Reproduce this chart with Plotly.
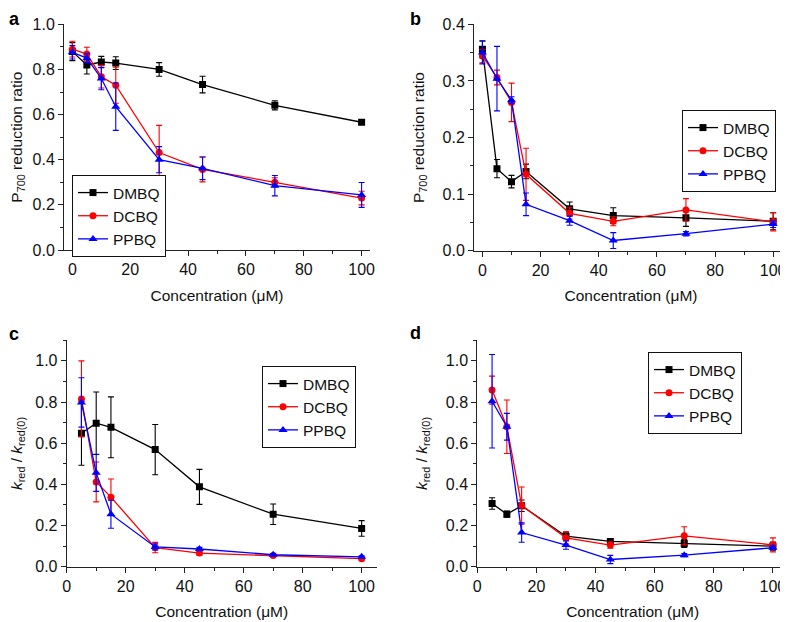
import plotly.graph_objects as go

conc_ab = [0, 5, 10, 15, 30, 45, 70, 100]
conc_cd = [5, 10, 15, 30, 45, 70, 100]
series_names = ["DMBQ", "DCBQ", "PPBQ"]

# Panel a: P700 reduction ratio
a_dmbq = [0.879, 0.820, 0.833, 0.828, 0.800, 0.733, 0.641, 0.566]
a_dmbq_err = [0.040, 0.040, 0.025, 0.028, 0.030, 0.037, 0.020, 0.010]
a_dcbq = [0.890, 0.868, 0.768, 0.730, 0.432, 0.357, 0.300, 0.230]
a_dcbq_err = [0.035, 0.030, 0.050, 0.080, 0.120, 0.055, 0.020, 0.030]
a_ppbq = [0.876, 0.850, 0.760, 0.635, 0.400, 0.362, 0.285, 0.244]
a_ppbq_err = [0.030, 0.020, 0.050, 0.105, 0.058, 0.050, 0.045, 0.055]

# Panel b: P700 reduction ratio
b_dmbq = [0.356, 0.145, 0.122, 0.140, 0.074, 0.062, 0.058, 0.052]
b_dmbq_err = [0.015, 0.016, 0.011, 0.013, 0.012, 0.014, 0.015, 0.015]
b_dcbq = [0.344, 0.306, 0.262, 0.135, 0.066, 0.052, 0.072, 0.051]
b_dcbq_err = [0.012, 0.013, 0.034, 0.046, 0.010, 0.008, 0.020, 0.016]
b_ppbq = [0.350, 0.304, 0.266, 0.082, 0.053, 0.018, 0.030, 0.047]
b_ppbq_err = [0.020, 0.057, 0.006, 0.020, 0.008, 0.014, 0.004, 0.006]

# Panel c: k_red / k_red(0)
c_dmbq = [0.648, 0.697, 0.677, 0.569, 0.388, 0.255, 0.186]
c_dmbq_err = [0.155, 0.152, 0.148, 0.122, 0.085, 0.050, 0.038]
c_dcbq = [0.815, 0.412, 0.338, 0.093, 0.066, 0.055, 0.039]
c_dcbq_err = [0.185, 0.097, 0.088, 0.025, 0.010, 0.005, 0.005]
c_ppbq = [0.798, 0.456, 0.255, 0.096, 0.086, 0.058, 0.048]
c_ppbq_err = [0.120, 0.090, 0.068, 0.015, 0.008, 0.006, 0.005]

# Panel d: k_red / k_red(0)
d_dmbq = [0.307, 0.255, 0.296, 0.148, 0.123, 0.113, 0.100]
d_dmbq_err = [0.028, 0.015, 0.028, 0.020, 0.012, 0.020, 0.020]
d_dcbq = [0.858, 0.680, 0.297, 0.140, 0.105, 0.150, 0.106]
d_dcbq_err = [0.068, 0.130, 0.090, 0.030, 0.015, 0.044, 0.034]
d_ppbq = [0.804, 0.680, 0.166, 0.105, 0.035, 0.056, 0.092]
d_ppbq_err = [0.227, 0.065, 0.047, 0.020, 0.020, 0.008, 0.010]

# The page body has an 8px margin, so the figure is drawn 8px in from the
# top-left corner of the 788x622 window.
OFF = 8
W, H = 788 - OFF, 622 - OFF


def fx(px):
    return (px - OFF) / W


def fy(py):
    return 1 - (py - OFF) / H


FONT = "Liberation Sans, Arial, sans-serif"
colors = ["#000000", "#ff0000", "#0000ff"]
symbols = ["square", "circle", "triangle-up"]

panels = [
    dict(x=conc_ab, ys=[a_dmbq, a_dcbq, a_ppbq], errs=[a_dmbq_err, a_dcbq_err, a_ppbq_err],
         px=(64, 370), py=(24.3, 250), xr=[-2.9, 102.9], yr=[0, 1.0], dy=0.2, my=0.1,
         ytitle="P<sub>700</sub> reduction ratio", letter="a", lpos=(8, 8),
         leg=(72, 175)),
    dict(x=conc_ab, ys=[b_dmbq, b_dcbq, b_ppbq], errs=[b_dmbq_err, b_dcbq_err, b_ppbq_err],
         px=(474, 788), py=(24.3, 250.7), xr=[-2.9, 105.1], yr=[0, 0.4], dy=0.1, my=0.05,
         ytitle="P<sub>700</sub> reduction ratio", letter="b", lpos=(409, 8),
         leg=(682, 110)),
    dict(x=conc_cd, ys=[c_dmbq, c_dcbq, c_ppbq], errs=[c_dmbq_err, c_dcbq_err, c_ppbq_err],
         px=(66.7, 376.7), py=(340.3, 566.7), xr=[0, 105.1], yr=[0, 1.1], dy=0.2, my=0.1,
         ytitle="<i>k</i><sub>red</sub> / <i>k</i><sub>red(0)</sub>", letter="c", lpos=(8, 323),
         leg=(262, 366)),
    dict(x=conc_cd, ys=[d_dmbq, d_dcbq, d_ppbq], errs=[d_dmbq_err, d_dcbq_err, d_ppbq_err],
         px=(477.3, 788), py=(340.3, 566.7), xr=[0, 105.1], yr=[0, 1.1], dy=0.2, my=0.1,
         ytitle="<i>k</i><sub>red</sub> / <i>k</i><sub>red(0)</sub>", letter="d", lpos=(409, 322),
         leg=(648, 352)),
]

fig = go.Figure()
layout = dict(
    width=W, height=H, margin=dict(l=0, r=0, t=0, b=0),
    paper_bgcolor="white", plot_bgcolor="white",
    font=dict(family=FONT, size=16, color="#111111"),
    annotations=[],
)

for i, p in enumerate(panels):
    n = i + 1
    xa = "x" if n == 1 else f"x{n}"
    ya = "y" if n == 1 else f"y{n}"
    legname = "legend" if n == 1 else f"legend{n}"
    for j in range(3):
        fig.add_trace(go.Scatter(
            x=p["x"], y=p["ys"][j], name=series_names[j], mode="lines+markers",
            xaxis=xa, yaxis=ya, legend=legname,
            line=dict(color=colors[j], width=1.3),
            marker=dict(symbol=symbols[j], size=7 if j != 2 else 8, color=colors[j]),
            error_y=dict(type="data", array=p["errs"][j], visible=True,
                         color=colors[j], thickness=1.1, width=3),
        ))
    axkey_x = "xaxis" if n == 1 else f"xaxis{n}"
    axkey_y = "yaxis" if n == 1 else f"yaxis{n}"
    layout[axkey_x] = dict(
        domain=[fx(p["px"][0]), min(fx(p["px"][1]), 1.0)], range=p["xr"], anchor=ya,
        showgrid=False, zeroline=False, showline=True, linecolor="#222222", linewidth=1,
        ticks="outside", ticklen=5, tickwidth=1, tickcolor="#222222",
        tick0=0, dtick=20, tickfont=dict(size=16),
        minor=dict(ticks="outside", ticklen=3, tickwidth=1, tickcolor="#222222", dtick=10, tick0=0),
        title=dict(text="Concentration (\u03bcM)", font=dict(size=15.5), standoff=12),
        automargin=False,
    )
    layout[axkey_y] = dict(
        domain=[fy(p["py"][1]), fy(p["py"][0])], range=p["yr"], anchor=xa,
        showgrid=False, zeroline=False, showline=True, linecolor="#222222", linewidth=1,
        ticks="outside", ticklen=5, tickwidth=1, tickcolor="#222222",
        tick0=0, dtick=p["dy"], tickformat=".1f", tickfont=dict(size=16),
        minor=dict(ticks="outside", ticklen=3, tickwidth=1, tickcolor="#222222", dtick=p["my"], tick0=0),
        title=dict(text=p["ytitle"], font=dict(size=15.5), standoff=14),
        automargin=False,
    )
    layout[legname] = dict(
        x=fx(p["leg"][0]), y=fy(p["leg"][1]), xanchor="left", yanchor="top",
        bgcolor="white", bordercolor="#111111", borderwidth=1,
        font=dict(size=15.5, color="#111111"), tracegroupgap=0, itemwidth=30,
    )
    layout["annotations"].append(dict(
        text=f"<b>{p['letter']}</b>", x=fx(p["lpos"][0]), y=fy(p["lpos"][1]),
        xref="paper", yref="paper", xanchor="left", yanchor="top",
        showarrow=False, font=dict(size=18, color="#000000", family=FONT),
        borderpad=0,
    ))

fig.update_layout(**layout)
fig.write_html("out.html")
